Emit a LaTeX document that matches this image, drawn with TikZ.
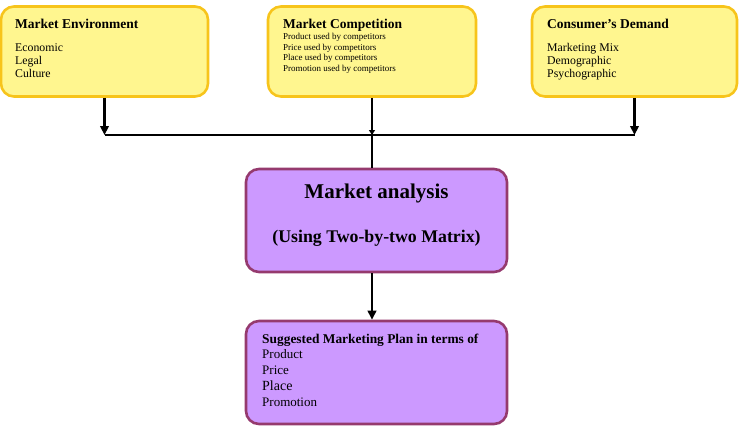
\documentclass[tikz,border=0pt]{standalone}
\usepackage{fontspec}
\setmainfont{Liberation Serif}
\usetikzlibrary{arrows.meta}
\definecolor{yfill}{HTML}{FFF68F}
\definecolor{ydraw}{HTML}{F7C41B}
\definecolor{pfill}{HTML}{CC99FF}
\definecolor{pdraw}{HTML}{953A6E}
\begin{document}
\begin{tikzpicture}[x=1pt,y=-1pt,
  ybox/.style={draw=ydraw,fill=yfill,line width=2.6pt,rounded corners=13pt,minimum width=#1,inner sep=0pt},
  pbox/.style={draw=pdraw,fill=pfill,line width=2.6pt,rounded corners=13pt,inner sep=0pt},
  txt/.style={anchor=base west,inner sep=0pt},
  ttl/.style={txt,font=\bfseries\fontsize{13.5}{15}\selectfont},
  itm/.style={txt,font=\fontsize{11.8}{13}\selectfont},
  sitm/.style={txt,font=\fontsize{9}{10}\selectfont},
  conn/.style={line width=2.9pt,black},
  tip/.style={-{Triangle[length=9pt,width=8.5pt]}}
]
\useasboundingbox (0,0) rectangle (739,437);
% top boxes
\node[ybox=207pt,minimum height=90pt] (b1) at (104.5,51.5) {};
\node[ybox=208pt,minimum height=90pt] (b2) at (372,51.5) {};
\node[ybox=205pt,minimum height=90pt] (b3) at (634.5,51.5) {};
% middle boxes
\node[pbox,minimum width=261pt,minimum height=103pt] (ma) at (376.5,220.5) {};
\node[pbox,minimum width=261pt,minimum height=103pt] (sp) at (376.5,372.5) {};
% texts
\node[ttl] (t1) at (15,28) {Market Environment};
\node[itm] (l1a) at (15,51) {Economic};
\node[itm] (l1b) at (15,64) {Legal};
\node[itm] (l1c) at (15,77) {Culture};
\node[ttl] (t2) at (283,28) {Market Competition};
\node[sitm] (l2a) at (283,39.5) {Product used by competitors};
\node[sitm] (l2b) at (283,50) {Price used by competitors};
\node[sitm] (l2c) at (283,60.5) {Place used by competitors};
\node[sitm] (l2d) at (283,71) {Promotion used by competitors};
\node[ttl] (t3) at (547,28) {Consumer’s Demand};
\node[itm] (l3a) at (547,51) {Marketing Mix};
\node[itm] (l3b) at (547,64) {Demographic};
\node[itm] (l3c) at (547,77) {Psychographic};
\node[anchor=base,inner sep=0pt,font=\bfseries\fontsize{21}{24}\selectfont] (ma1) at (376.5,198) {Market analysis};
\node[anchor=base,inner sep=0pt,font=\bfseries\fontsize{17.8}{20}\selectfont] (ma2) at (376.5,242) {(Using Two-by-two Matrix)};
\node[txt,font=\bfseries\fontsize{13.4}{15}\selectfont] (s0) at (262,343) {Suggested Marketing Plan in terms of};
\node[txt,font=\fontsize{13}{15}\selectfont] (s1) at (262,358) {Product};
\node[txt,font=\fontsize{13}{15}\selectfont] (s2) at (262,374) {Price};
\node[txt,font=\fontsize{14}{16}\selectfont] (s3) at (262,390) {Place};
\node[txt,font=\fontsize{13}{15}\selectfont] (s4) at (262,406) {Promotion};
% connectors
\coordinate (j1) at (b1.south |- 0,135);
\coordinate (j3) at (b3.south |- 0,135);
\coordinate (jc) at (b2.south |- 0,135);
\draw[conn,tip] (b1.south) -- (j1);
\draw[conn,tip] (b3.south) -- (j3);
\draw[conn] (j1) -- (j3);
\draw[conn,-{Triangle[length=5pt,width=6pt]}] (b2.south) -- (jc);
\draw[conn] (jc) -- (jc |- ma.north);
\draw[conn,tip] (jc |- ma.south) -- (jc |- sp.north);
\end{tikzpicture}
\end{document}
